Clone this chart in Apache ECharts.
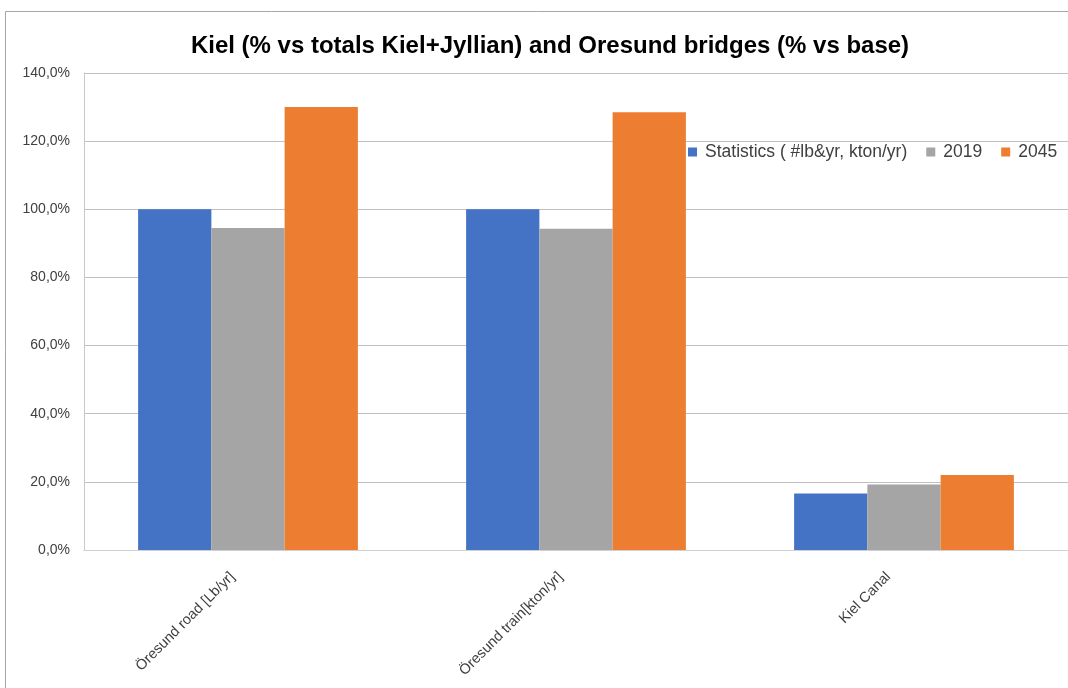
<!DOCTYPE html>
<html><head><meta charset="utf-8">
<script src="https://cdn.jsdelivr.net/npm/echarts@6/dist/echarts.min.js"></script>
<style>html,body{margin:0;padding:0;background:#fff}#c{width:1068px;height:688px}</style>
</head><body><div id="c"></div>
<script>
const categories = ['Öresund road [Lb/yr]', 'Öresund train[kton/yr]', 'Kiel Canal'];
const seriesNames = ['Statistics ( #lb&yr, kton/yr)', '2019', '2045'];
const statistics = [100.0, 100.0, 16.6];
const y2019 = [94.5, 94.3, 19.2];
const y2045 = [130.0, 128.5, 22.0];
const yTicks = [0, 20, 40, 60, 80, 100, 120, 140];
const colors = ['#4472C4', '#A5A5A5', '#ED7D31'];

const chart = echarts.init(document.getElementById('c'));
const font = 'Liberation Sans, Arial, sans-serif';
const fmt = v => v.toFixed(1).replace('.', ',') + '%';
chart.setOption({
  animation: false,
  title: {
    text: 'Kiel (% vs totals Kiel+Jyllian) and Oresund bridges (% vs base)',
    left: 545, top: 29, textAlign: 'center',
    textStyle: {fontFamily: font, fontSize: 24, fontWeight: 'bold', color: '#000'}
  },
  graphic: [{type: 'rect', shape: {x: 5.5, y: 11.5, width: 1100, height: 700},
    style: {fill: 'none', stroke: '#a6a6a6', lineWidth: 1}, silent: true}],
  legend: {
    data: seriesNames, left: 688, top: 143, padding: 0, itemWidth: 9, itemHeight: 9, itemGap: 19,
    icon: 'rect',
    textStyle: {fontFamily: font, fontSize: 17.5, color: '#404040', padding: [0, 0, 0, 3]}
  },
  grid: {left: 84, top: 73, width: 985, bottom: 138, containLabel: false},
  xAxis: {
    type: 'category', data: categories,
    axisLine: {lineStyle: {color: '#d0d0d0'}}, axisTick: {show: false},
    axisLabel: {rotate: 45, fontFamily: font, fontSize: 14.5, color: '#404040', margin: 9,
      padding: [0, 22, 0, 0], interval: 0}
  },
  yAxis: {
    type: 'value', min: yTicks[0], max: yTicks[yTicks.length - 1], interval: 20,
    axisLine: {show: true, lineStyle: {color: '#c8c8c8'}},
    splitLine: {lineStyle: {color: '#c0c0c0'}},
    axisLabel: {formatter: fmt, fontFamily: font, fontSize: 14, color: '#404040', margin: 14}
  },
  series: [statistics, y2019, y2045].map((d, i) => ({
    name: seriesNames[i], type: 'bar', data: d, barGap: '0%', barCategoryGap: '33%',
    itemStyle: {color: colors[i]}
  }))
});
</script></body></html>
